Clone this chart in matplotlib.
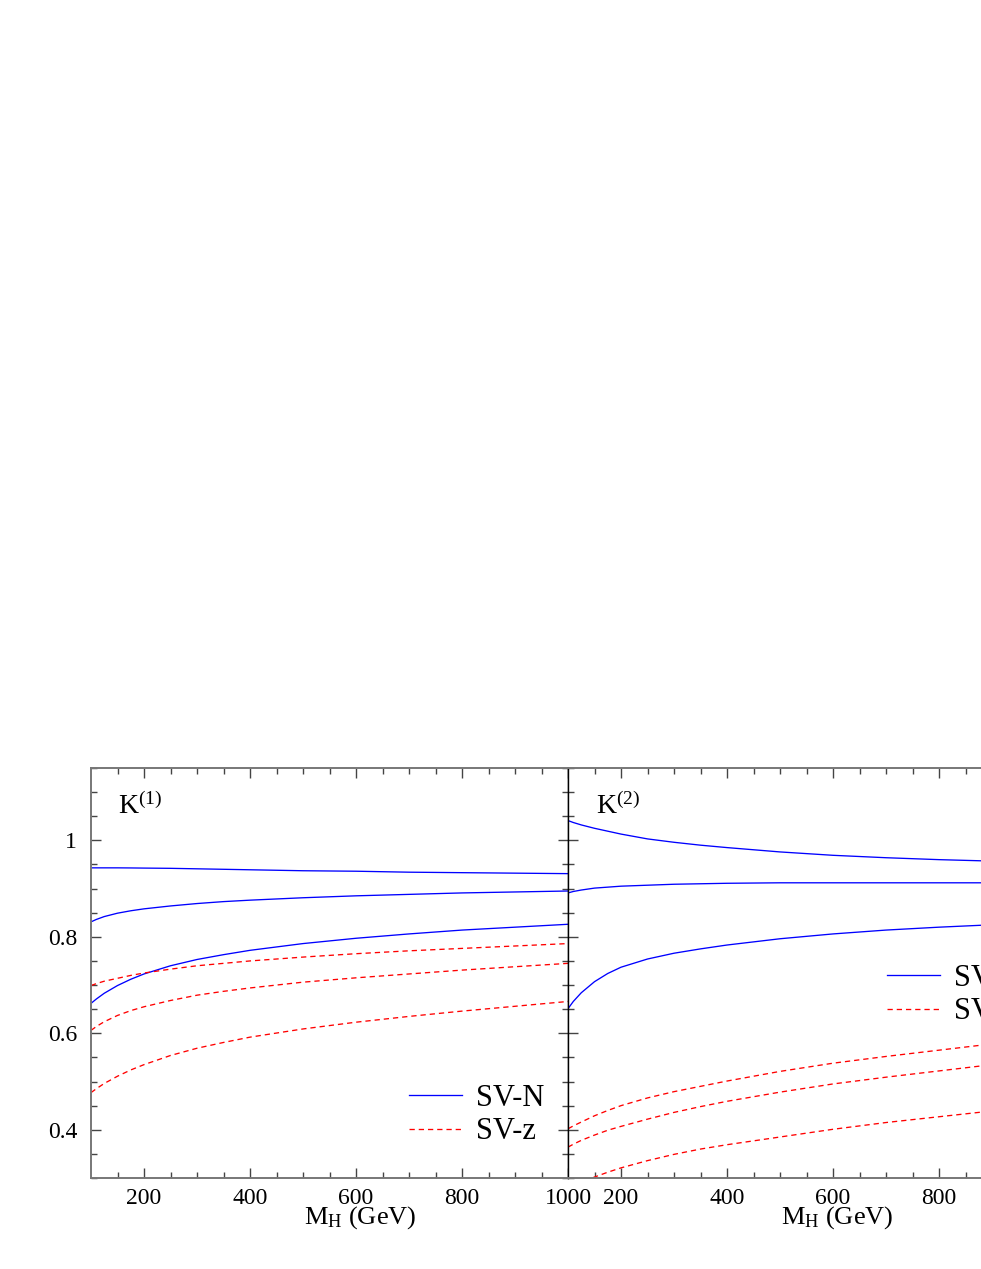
import matplotlib
import matplotlib.pyplot as plt

plt.switch_backend('agg')

plt.rcParams['font.family'] = ['Liberation Serif', 'DejaVu Serif']
plt.rcParams['mathtext.fontset'] = 'custom'
plt.rcParams['mathtext.rm'] = 'Liberation Serif'
plt.rcParams['mathtext.it'] = 'Liberation Serif:italic'

# Higgs mass grid (GeV)
m_h = [100, 110, 125, 150, 175, 200, 250, 300, 350, 400, 500, 600, 700, 800, 900, 1000]

# K(1) panel
k1_sv_n = [
    [0.943, 0.943, 0.943, 0.943, 0.9428, 0.9425, 0.942, 0.941, 0.940, 0.939, 0.937, 0.936, 0.934, 0.933, 0.932, 0.931],
    [0.831, 0.836, 0.842, 0.849, 0.854, 0.858, 0.864, 0.869, 0.873, 0.876, 0.881, 0.885, 0.888, 0.891, 0.893, 0.895],
    [0.662, 0.671, 0.683, 0.699, 0.712, 0.723, 0.740, 0.753, 0.763, 0.772, 0.786, 0.797, 0.806, 0.814, 0.820, 0.826],
]
k1_sv_z = [
    [0.699, 0.703, 0.708, 0.714, 0.720, 0.725, 0.733, 0.740, 0.745, 0.750, 0.758, 0.765, 0.771, 0.776, 0.781, 0.786],
    [0.606, 0.614, 0.624, 0.637, 0.647, 0.655, 0.668, 0.679, 0.687, 0.694, 0.706, 0.715, 0.723, 0.731, 0.738, 0.745],
    [0.477, 0.485, 0.496, 0.511, 0.524, 0.535, 0.554, 0.569, 0.581, 0.592, 0.609, 0.623, 0.635, 0.646, 0.656, 0.666],
]

# K(2) panel
k2_sv_n = [
    [1.041, 1.037, 1.032, 1.025, 1.019, 1.013, 1.003, 0.996, 0.990, 0.985, 0.976, 0.969, 0.964, 0.960, 0.957, 0.954],
    [0.891, 0.894, 0.897, 0.901, 0.903, 0.905, 0.907, 0.909, 0.910, 0.911, 0.912, 0.912, 0.912, 0.912, 0.912, 0.912],
    [0.651, 0.666, 0.684, 0.707, 0.724, 0.737, 0.754, 0.766, 0.775, 0.783, 0.796, 0.806, 0.814, 0.820, 0.825, 0.830],
]
k2_sv_z = [
    [0.402, 0.408, 0.416, 0.429, 0.440, 0.450, 0.466, 0.479, 0.490, 0.501, 0.521, 0.538, 0.552, 0.565, 0.578, 0.590],
    [0.364, 0.370, 0.378, 0.389, 0.399, 0.407, 0.422, 0.436, 0.448, 0.459, 0.478, 0.495, 0.509, 0.522, 0.535, 0.547],
    [0.276, 0.282, 0.290, 0.302, 0.312, 0.321, 0.336, 0.349, 0.360, 0.369, 0.385, 0.401, 0.415, 0.427, 0.439, 0.450],
]

xticks_major = [200, 400, 600, 800, 1000]
yticks = [0.4, 0.6, 0.8, 1.0]
ytick_labels = ['0.4', '0.6', '0.8', '1']

W, H = 981, 1269
fig = plt.figure(figsize=(W / 100, H / 100), dpi=100)

# the right panel runs past the figure edge, as in the original page crop
ax_l = fig.add_axes([91 / W, (H - 1178) / H, 477 / W, 410 / H])
ax_r = fig.add_axes([568 / W, (H - 1178) / H, 477 / W, 410 / H])

BLUE = '#0000ff'
RED = '#ff0000'
SPINE = '#777777'


def style_axis(ax):
    ax.set_xlim(100, 1000)
    ax.set_ylim(0.3, 1.15)
    ax.set_xticks(xticks_major)
    ax.set_xticks(range(150, 1001, 50), minor=True)
    ax.set_yticks(yticks)
    ax.set_yticks([0.3 + 0.05 * i for i in range(18)], minor=True)
    ax.tick_params(which='both', direction='in', top=True, right=True,
                   labelsize=17, color='#444444', width=1.0)
    ax.tick_params(which='major', length=7)
    ax.tick_params(which='minor', length=4)
    ax.tick_params(axis='x', which='major', pad=7.5)
    ax.tick_params(axis='y', which='major', pad=10)
    for s in ax.spines.values():
        s.set_color(SPINE)
        s.set_linewidth(1.4)


style_axis(ax_l)
style_axis(ax_r)
ax_l.set_yticklabels(ytick_labels)
ax_r.set_yticklabels([])
ax_l.spines['right'].set_color('black')
ax_r.spines['left'].set_color('black')
ax_l.spines['right'].set_linewidth(1.0)
ax_r.spines['left'].set_linewidth(1.0)

for ax, sv_n, sv_z in [(ax_l, k1_sv_n, k1_sv_z), (ax_r, k2_sv_n, k2_sv_z)]:
    for i, ys in enumerate(sv_n):
        ax.plot(m_h, ys, color=BLUE, lw=0.95, label='SV-N' if i == 0 else None)
    for i, ys in enumerate(sv_z):
        ax.plot(m_h, ys, color=RED, lw=0.95, dashes=(4, 3),
                label='SV-z' if i == 0 else None)

ax_l.text(0.057, 0.887, r'K$^{(1)}$', transform=ax_l.transAxes, fontsize=20,
          va='baseline', ha='left')
ax_r.text(0.059, 0.887, r'K$^{(2)}$', transform=ax_r.transAxes, fontsize=20,
          va='baseline', ha='left')

leg_kw = dict(frameon=False, fontsize=22, handlelength=1.73, handletextpad=0.46,
              labelspacing=0.14, borderpad=0, borderaxespad=0, loc='upper left')
ax_l.legend(bbox_to_anchor=((409 - 91) / 477, (1178 - 1084) / 410), **leg_kw)
ax_r.legend(bbox_to_anchor=((887 - 568) / 477, (1178 - 964) / 410), **leg_kw)

for xc in (360, 837):
    fig.text(xc / W, (H - 1224) / H, r'M$_\mathrm{H}$ (GeV)', fontsize=19,
             ha='center', va='baseline')

fig.savefig('out.png', dpi=100)
